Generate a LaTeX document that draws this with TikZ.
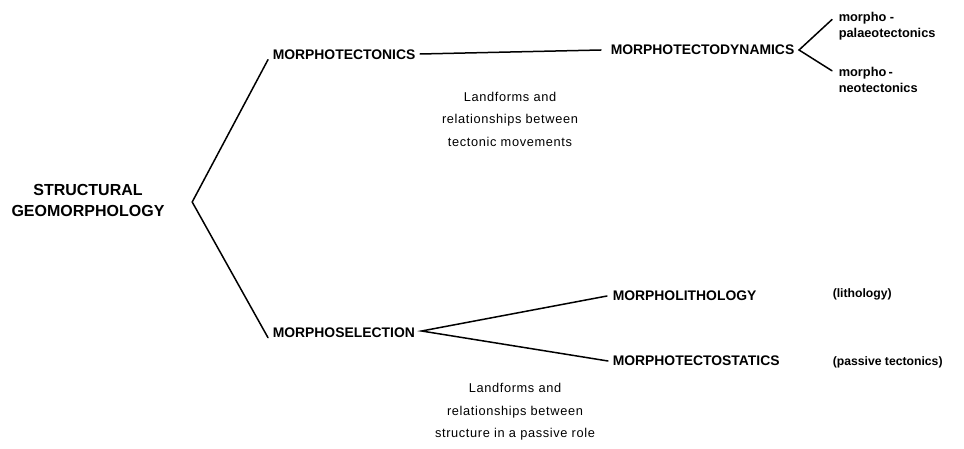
\documentclass[tikz,border=0pt]{standalone}
\usepackage{fontspec}
\setmainfont{Liberation Sans}
\newfontfamily\notefont[LetterSpace=5]{Liberation Sans}
\usetikzlibrary{calc}
\begin{document}
\begin{tikzpicture}[x=1pt,y=-1pt,line width=1.5pt,line cap=round,
  rootlabel/.style={font=\fontsize{16}{21}\selectfont\bfseries,align=center,inner sep=0pt},
  termlabel/.style={font=\fontsize{13.9}{16}\selectfont\bfseries,anchor=west,inner sep=0pt},
  sublabel/.style={font=\fontsize{12.8}{15.5}\selectfont\bfseries,anchor=west,align=left,inner sep=0pt},
  remark/.style={font=\fontsize{12.2}{12.2}\selectfont\bfseries,anchor=west,inner sep=0pt},
  note/.style={font=\notefont\fontsize{12.8}{22.5}\selectfont,align=center,inner sep=0pt},
  branch/.style={draw=black}]
\useasboundingbox (0,0) rectangle (964,449);

% root of the classification
\node[rootlabel] (sg) at (88,200) {STRUCTURAL\\GEOMORPHOLOGY};

% first level
\node[termlabel] (mt) at (272,55) {MORPHOTECTONICS};
\node[termlabel] (ms) at (272,333) {MORPHOSELECTION};

% second level
\node[termlabel] (mtd) at (610,50) {MORPHOTECTODYNAMICS};
\node[termlabel] (ml) at (612,296) {MORPHOLITHOLOGY};
\node[termlabel] (mts) at (612,361) {MORPHOTECTOSTATICS};

% third level
\node[sublabel] (pal) at (838,26) {morpho -\\palaeotectonics};
\node[sublabel] (neo) at (838,80) {morpho\,-\\neotectonics};

% side remarks
\node[remark] (lith) at (832,294) {(lithology)};
\node[remark] (pas) at (832,362) {(passive tectonics)};

% explanatory notes
\node[note] (n1) at (510,119) {Landforms and\\relationships between\\tectonic movements};
\node[note] (n2) at (515,412) {Landforms and\\relationships between\\structure in a passive role};

% branching points
\coordinate (f1) at ($(sg.east)+(27,2)$);
\coordinate (f2) at ($(mtd.east)+(4,0)$);
\coordinate (f3) at ($(ms.east)+(6,-2)$);

% connectors
\draw[branch] ($(mt.south west)+(-4,-1)$) -- (f1) -- ($(ms.south west)+(-4,-1)$);
\draw[branch] ($(mt.east)+(4,-1)$) -- ($(mtd.west)+(-9,0)$);
\draw[branch] ($(pal.north west)+(-6,8)$) -- (f2) -- ($(neo.north west)+(-6,4)$);
\draw[branch] ($(ml.west)+(-5,0)$) -- (f3) -- ($(mts.west)+(-4,0)$);
\end{tikzpicture}
\end{document}
